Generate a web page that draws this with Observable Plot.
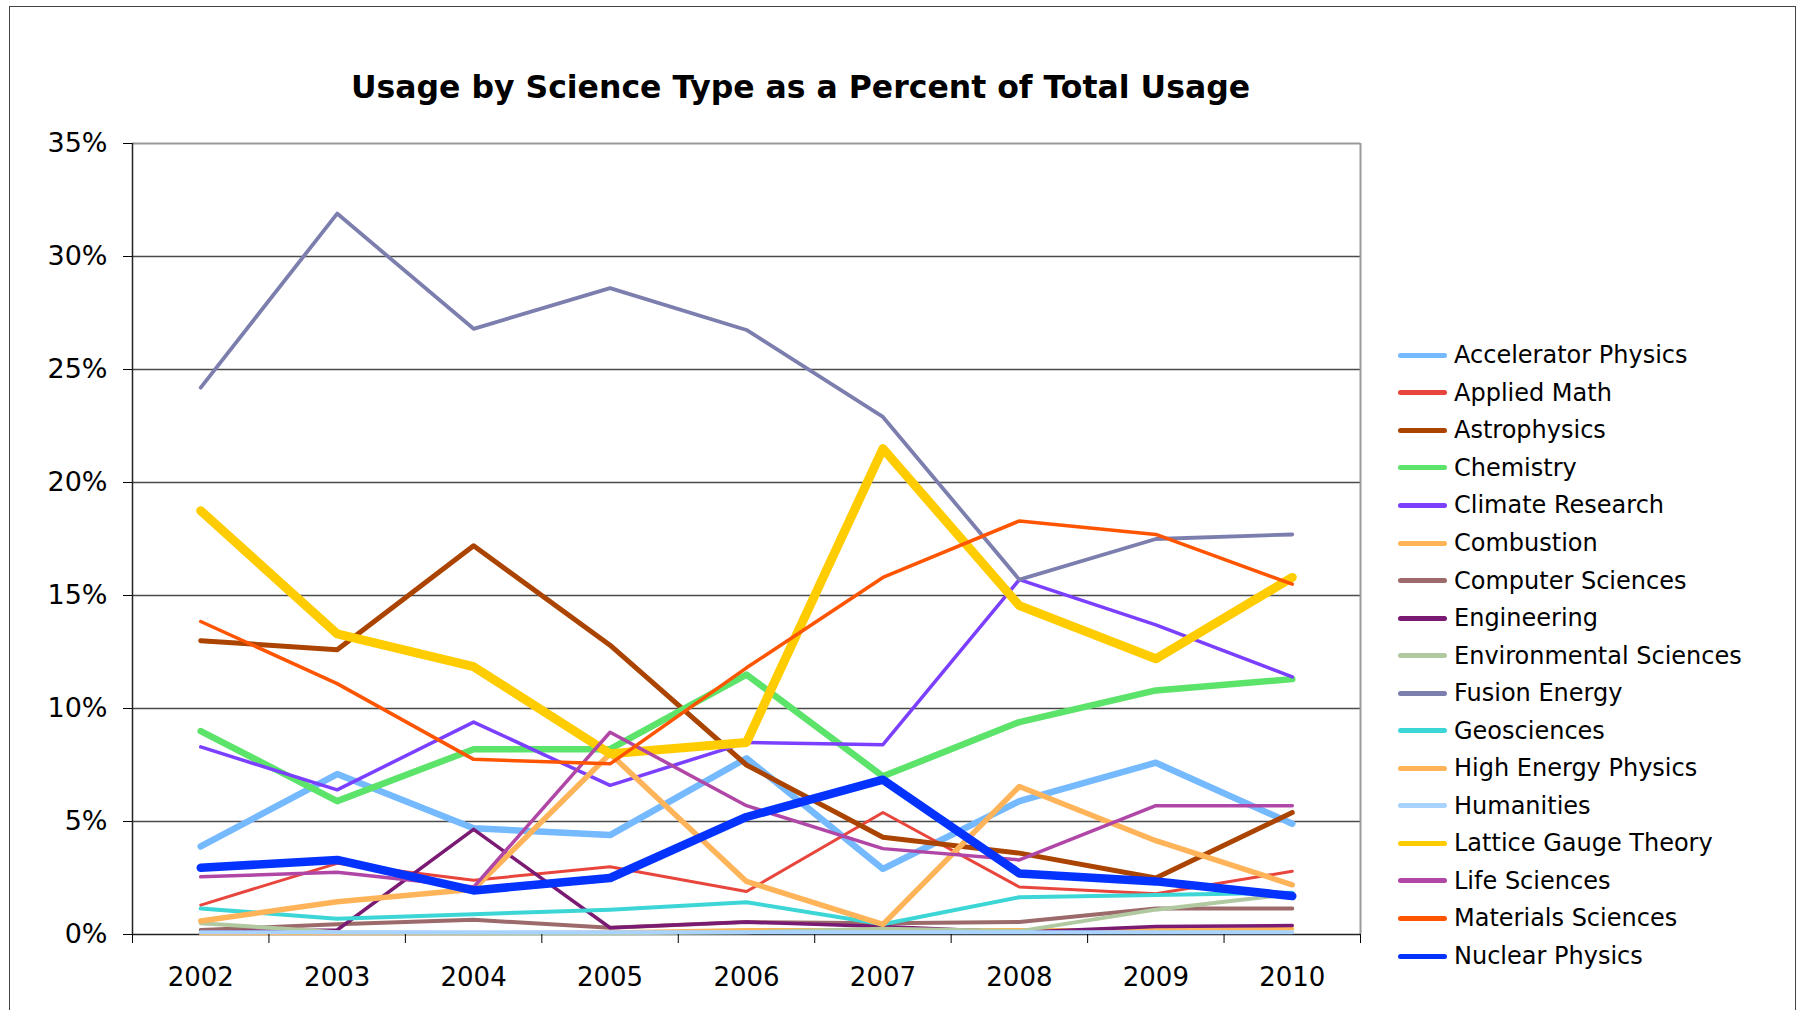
<!DOCTYPE html>
<html>
<head>
<meta charset="utf-8">
<script src="https://cdn.jsdelivr.net/npm/d3@7"></script>
<script src="https://cdn.jsdelivr.net/npm/@observablehq/plot@0.6"></script>
<style>
  body { margin: 0; background: #fff; font-family: "DejaVu Sans", Verdana, sans-serif; color: #000; }
  #wrap { position: relative; width: 1801px; height: 1010px; overflow: hidden; background: #fff; }
  #frame { position: absolute; left: 9px; top: 6px; width: 1787px; height: 1100px; border: 1.5px solid #444; box-sizing: border-box; }
  #title { position: absolute; left: 0; width: 1601px; top: 69px; line-height: 36px; text-align: center; font-weight: bold; font-size: 31.5px; }
  #chart { position: absolute; left: 0; top: 0; }
  #legend { position: absolute; left: 1398px; top: 336.5px; }
  .row { display: flex; align-items: center; height: 37.55px; font-size: 24px; white-space: nowrap; }
  .sw { width: 49px; height: 5px; border-radius: 2.5px; margin-right: 7px; }
</style>
</head>
<body>
<div id="wrap">
  <div id="frame"></div>
  <div id="chart"></div>
  <div id="title">Usage by Science Type as a Percent of Total Usage</div>
  <div id="legend"></div>
</div>
<script>
// ---- data ----
const years = [2002, 2003, 2004, 2005, 2006, 2007, 2008, 2009, 2010];
const yTicks = [0, 5, 10, 15, 20, 25, 30, 35];

const acceleratorPhysics    = [3.9, 7.1, 4.7, 4.4, 7.8, 2.9, 5.9, 7.6, 4.9];
const appliedMath           = [1.3, 3.15, 2.4, 3.0, 1.9, 5.4, 2.1, 1.8, 2.8];
const astrophysics          = [13.0, 12.6, 17.2, 12.8, 7.5, 4.3, 3.6, 2.5, 5.4];
const chemistry             = [9.0, 5.9, 8.2, 8.2, 11.5, 7.0, 9.4, 10.8, 11.3];
const climateResearch       = [8.3, 6.4, 9.4, 6.6, 8.5, 8.4, 15.7, 13.7, 11.4];
const combustion            = [0.05, 0.05, 0.05, 0.1, 0.2, 0.2, 0.2, 0.2, 0.25];
const computerSciences      = [0.2, 0.45, 0.65, 0.3, 0.55, 0.5, 0.55, 1.15, 1.15];
const engineering           = [0.1, 0.2, 4.65, 0.3, 0.55, 0.35, 0.1, 0.35, 0.4];
const environmentalSciences = [0.5, 0.1, 0.05, 0.05, 0.1, 0.25, 0.15, 1.1, 1.8];
const fusionEnergy          = [24.2, 31.9, 26.8, 28.6, 26.75, 22.9, 15.7, 17.5, 17.7];
const geosciences           = [1.15, 0.7, 0.9, 1.1, 1.43, 0.45, 1.65, 1.75, 1.85];
const highEnergyPhysics     = [0.6, 1.45, 2.0, 8.0, 2.35, 0.45, 6.55, 4.15, 2.2];
const humanities            = [0.1, 0.1, 0.1, 0.1, 0.1, 0.1, 0.1, 0.1, 0.1];
const latticeGaugeTheory    = [18.75, 13.3, 11.85, 8.0, 8.5, 21.5, 14.55, 12.2, 15.8];
const lifeSciences          = [2.55, 2.75, 2.1, 8.95, 5.7, 3.8, 3.3, 5.7, 5.7];
const materialsSciences     = [13.85, 11.1, 7.75, 7.55, 11.8, 15.8, 18.3, 17.7, 15.5];
const nuclearPhysics        = [2.95, 3.3, 1.95, 2.5, 5.2, 6.85, 2.7, 2.35, 1.7];

const seriesNames = [
  "Accelerator Physics", "Applied Math", "Astrophysics", "Chemistry", "Climate Research",
  "Combustion", "Computer Sciences", "Engineering", "Environmental Sciences", "Fusion Energy",
  "Geosciences", "High Energy Physics", "Humanities", "Lattice Gauge Theory", "Life Sciences",
  "Materials Sciences", "Nuclear Physics"
];
const seriesValues = [
  acceleratorPhysics, appliedMath, astrophysics, chemistry, climateResearch,
  combustion, computerSciences, engineering, environmentalSciences, fusionEnergy,
  geosciences, highEnergyPhysics, humanities, latticeGaugeTheory, lifeSciences,
  materialsSciences, nuclearPhysics
];

// ---- styles ----
const seriesColors = [
  "#75B9FF", "#E8453C", "#AA4400", "#5CE36A", "#7B3FFF",
  "#FFB457", "#9C6A6A", "#7A1A73", "#B1C9A1", "#7C7FAE",
  "#3CD6D6", "#FFB45A", "#A8D3FF", "#FFCC00", "#B046A6",
  "#FF5500", "#0433FF"
];
const seriesWidths = [
  6.5, 3, 5, 6.5, 3.5,
  4, 4, 3.5, 4, 3.8,
  4, 5.5, 4, 9, 3.5,
  3.5, 8.5
];

const table = seriesNames.map((name, s) =>
  years.map((year, i) => ({series: name, year, value: seriesValues[s][i]}))
);

const x0 = years[0] - 0.5;
const x1 = years[years.length - 1] + 0.5;
const boundaries = years.map(y => y - 0.5).concat([x1]);

const chart = Plot.plot({
  width: 1801,
  height: 1010,
  marginLeft: 132,
  marginRight: 441,
  marginTop: 143,
  marginBottom: 76,
  style: {fontFamily: "'DejaVu Sans', Verdana, sans-serif", fontSize: "26px", color: "#000", background: "transparent", overflow: "visible"},
  x: {domain: [x0, x1]},
  y: {domain: [0, 35]},
  marks: [
    Plot.gridY(yTicks.slice(1, -1), {stroke: "#4a4a4a", strokeOpacity: 1, strokeWidth: 1.5}),
    Plot.ruleY([35], {stroke: "#9a9a9a", strokeWidth: 2}),
    Plot.ruleX([x1], {stroke: "#9a9a9a", strokeWidth: 2}),
    Plot.ruleY([0], {stroke: "#222", strokeWidth: 1.5}),
    ...table.map((rows, s) => Plot.line(rows, {
      x: "year", y: "value",
      stroke: seriesColors[s], strokeWidth: seriesWidths[s],
      strokeLinejoin: "round", strokeLinecap: "round"
    })),
    Plot.ruleX([x0], {stroke: "#222", strokeWidth: 1.5}),
    Plot.axisY(yTicks, {tickSize: 9, tickPadding: 16, fontSize: 27, tickFormat: d => d + "%", label: null}),
    Plot.axisX(boundaries, {tickSize: 9, tickFormat: () => "", label: null}),
    Plot.axisX(years, {tickSize: 0, tickPadding: 33, tickFormat: d => String(d), label: null})
  ]
});
document.getElementById("chart").appendChild(chart);

// ---- legend ----
const legend = document.getElementById("legend");
seriesNames.forEach((name, s) => {
  const row = document.createElement("div");
  row.className = "row";
  const sw = document.createElement("div");
  sw.className = "sw";
  sw.style.background = seriesColors[s];
  const tx = document.createElement("span");
  tx.textContent = name;
  row.appendChild(sw);
  row.appendChild(tx);
  legend.appendChild(row);
});
</script>
</body>
</html>
